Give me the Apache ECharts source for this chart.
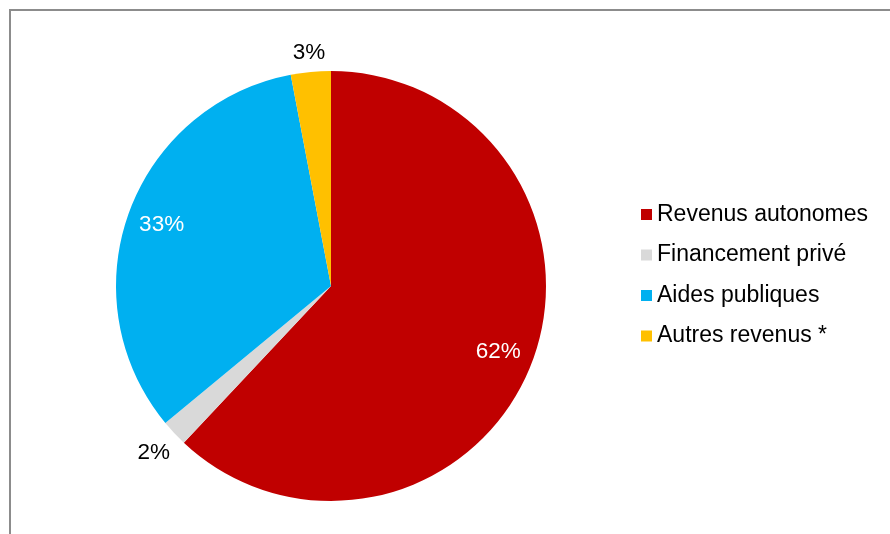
<!DOCTYPE html>
<html>
<head>
<meta charset="utf-8">
<script src="https://cdn.jsdelivr.net/npm/echarts@6/dist/echarts.min.js"></script>
<style>
  html, body { margin: 0; padding: 0; background: #ffffff; }
  #frame {
    position: absolute; left: 9px; top: 9px; width: 890px; height: 540px;
    border-top: 2px solid #8c8c8c; border-left: 2px solid #8c8c8c;
    box-sizing: border-box;
  }
  #chart { position: absolute; left: 0; top: 0; width: 890px; height: 534px; }
</style>
</head>
<body>
<div id="frame"></div>
<div id="chart"></div>
<script>
// Répartition des ressources (en %)
const categories = ['Revenus autonomes', 'Financement privé', 'Aides publiques', 'Autres revenus *'];
const shares = [62, 2, 33, 3];
const colors = ['#C00000', '#D9D9D9', '#00B0F0', '#FFC000'];
// where each percentage label sits: inside the slice or just outside its edge
const labelPlacement = ['inside', 'outsideFar', 'inside', 'outsideNear'];

const FONT = '"Liberation Sans", Arial, Helvetica, sans-serif';
const CENTER = [331, 286];
const R = 215;

const chart = echarts.init(document.getElementById('chart'), null, { renderer: 'canvas' });

function pieData(showFor, labelColor) {
  return categories.map((name, i) => ({
    name: name,
    value: shares[i],
    label: {
      show: labelPlacement[i] === showFor,
      color: labelColor
    }
  }));
}

function labelRing(radius, showFor, labelColor) {
  return {
    type: 'pie',
    silent: true,
    radius: radius,
    center: CENTER,
    startAngle: 90,
    clockwise: true,
    avoidLabelOverlap: false,
    itemStyle: { color: 'rgba(0,0,0,0)', borderWidth: 0 },
    label: {
      position: 'inside',
      formatter: '{c}%',
      fontFamily: FONT,
      fontSize: 22.5
    },
    labelLine: { show: false },
    emphasis: { disabled: true },
    data: pieData(showFor, labelColor)
  };
}

chart.setOption({
  animation: false,
  backgroundColor: 'transparent',
  color: colors,
  legend: {
    orient: 'vertical',
    left: 641,
    top: 203,
    padding: 0,
    itemWidth: 11,
    itemHeight: 11,
    itemGap: 17.5,
    icon: 'rect',
    selectedMode: false,
    textStyle: { fontFamily: FONT, fontSize: 23, color: '#000000', padding: [0, 0, 0, 0] },
    data: categories
  },
  series: [
    {
      type: 'pie',
      radius: [0, R],
      center: CENTER,
      startAngle: 90,
      clockwise: true,
      silent: true,
      label: { show: false },
      labelLine: { show: false },
      itemStyle: { borderWidth: 0 },
      data: categories.map((name, i) => ({ name: name, value: shares[i], itemStyle: { color: colors[i] } }))
    },
    labelRing([141, 213], 'inside', '#ffffff'),
    labelRing([221, 241], 'outsideNear', '#000000'),
    labelRing([230, 250], 'outsideFar', '#000000')
  ]
});
</script>
</body>
</html>
